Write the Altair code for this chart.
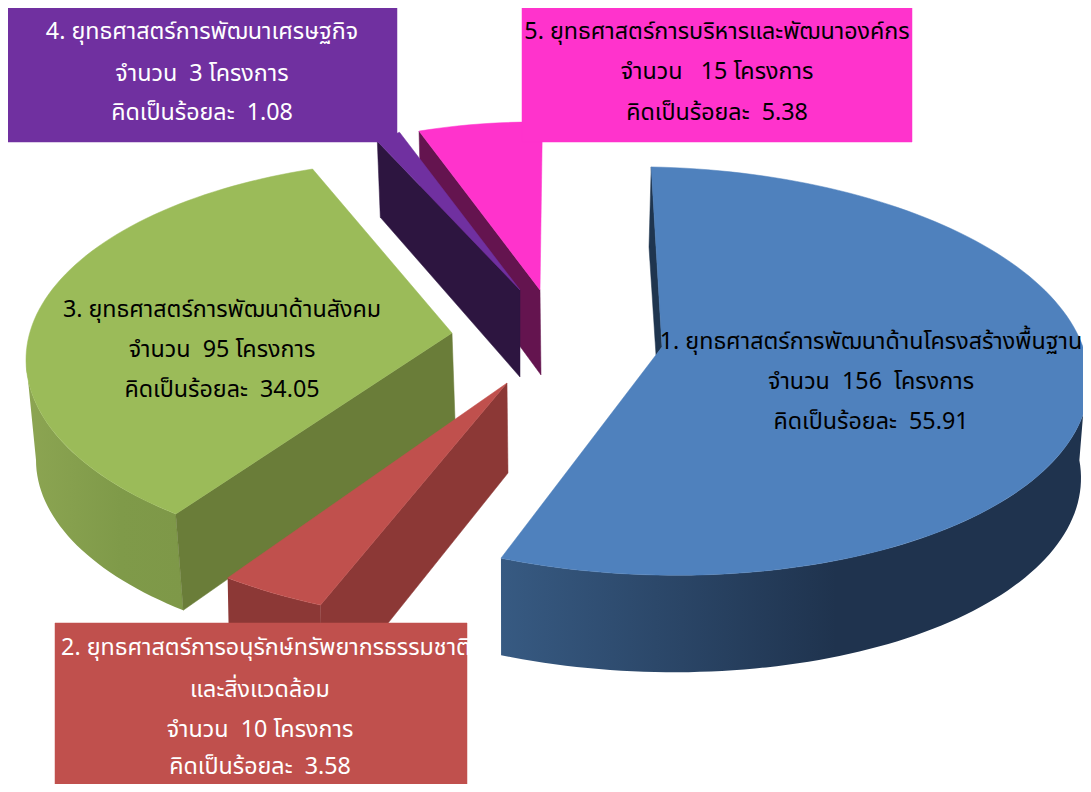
import math
import altair as alt

# ---- chart values -------------------------------------------------------
categories = ["ยุทธศาสตร์การพัฒนาด้านโครงสร้างพื้นฐาน",
              "ยุทธศาสตร์การอนุรักษ์ทรัพยากรธรรมชาติ",
              "ยุทธศาสตร์การพัฒนาด้านสังคม",
              "ยุทธศาสตร์การพัฒนาเศรษฐกิจ",
              "ยุทธศาสตร์การบริหารและพัฒนาองค์กร"]
projects = [156, 10, 95, 3, 15]
top_colors = ["#4F81BD", "#C0504D", "#9BBB59", "#7030A0", "#FF33CC"]
cut_colors = ["#1F354F", "#8C3836", "#6A7D39", "#2D1540", "#64144F"]

# fitted picture geometry of each exploded slice
rotation = [-0.5, 0.2, 5.4, 1.3, 1.3]
shear = [10, 0, 0, 0, 0]
rim = [(655, 371, 434, 204), (492, 365, 468, 258), (439, 359.7, 413, 200.3),
       (508, 504, 350, 391), (534, 307, 371, 185)]
floor = [(653, 468, 428, 204), (494, 465, 468, 258), (442, 460, 406, 195),
         (511, 580, 350, 391), (536, 387, 371, 185)]
apex = [(662, 347), (507, 383), (452, 333), (520, 290), (540, 290)]
apex_floor = [(656, 355), (508, 473), (455, 420), (520, 377), (541, 375)]
draw_order = [0, 2, 1, 4, 3]
wall_range = {0: (85, None), 1: (None, None), 2: (None, 270)}
wall_stops = {
    0: [(0, "#375A82"), (0.57, "#1F334E"), (1, "#1F334E")],
    1: [(0, "#8C3836"), (1, "#8C3836")],
    2: [(0, "#8CA552"), (0.6, "#7F9A49"), (1, "#7E9848")],
}

boxes = [(55, 623, 467, 800, "#C0504D"), (7, 6, 397, 142, "#7030A0"), (522, 0, 912, 142, "#FF33CC")]

NB = "\u00a0"
text_lines = [
    ("1. ยุทธศาสตร์การพัฒนาด้านโครงสร้างพื้นฐาน", 871, 342, "black"),
    (f"จำนวน {NB}156 {NB}โครงการ", 871, 382, "black"),
    (f"คิดเป็นร้อยละ {NB}55.91", 871, 422, "black"),
    ("2. ยุทธศาสตร์การอนุรักษ์ทรัพยากรธรรมชาติ", 266, 648, "white"),
    ("และสิ่งแวดล้อม", 260, 690, "white"),
    (f"จำนวน {NB}10 โครงการ", 260, 730, "white"),
    (f"คิดเป็นร้อยละ {NB}3.58", 260, 767, "white"),
    ("3. ยุทธศาสตร์การพัฒนาด้านสังคม", 222, 310, "black"),
    (f"จำนวน {NB}95 โครงการ", 222, 350, "black"),
    (f"คิดเป็นร้อยละ {NB}34.05", 222, 390, "black"),
    ("4. ยุทธศาสตร์การพัฒนาเศรษฐกิจ", 202, 32, "white"),
    (f"จำนวน {NB}3 โครงการ", 202, 74, "white"),
    (f"คิดเป็นร้อยละ {NB}1.08", 202, 113, "white"),
    ("5. ยุทธศาสตร์การบริหารและพัฒนาองค์กร", 717, 32, "black"),
    (f"จำนวน {NB}{NB}15 โครงการ", 717, 72, "black"),
    (f"คิดเป็นร้อยละ {NB}5.38", 717, 113, "black"),
]

# ---- geometry built from the values --------------------------------------
total = sum(projects)
STEP = 1.5


def pt(e, t, s=0):
    r = math.radians(t)
    return [e[0] + e[2] * math.sin(r), e[1] - e[3] * math.cos(r) + s * math.sin(r)]


def feature(ring, color):
    ring = [list(p) for p in ring]
    ring.append(ring[0])
    return {"type": "Feature", "properties": {"c": color},
            "geometry": {"type": "Polygon", "coordinates": [ring]}}


def ts(a, b):
    n = max(2, int((b - a) / STEP))
    return [a + (b - a) * k / n for k in range(n + 1)]


PROJ = dict(type="identity", scale=1, translate=[-8, -8])


def faces_layer(features):
    return alt.Chart(alt.Data(values=features)).mark_geoshape(strokeWidth=0.5).encode(
        fill=alt.Color("properties.c:N", scale=None),
        stroke=alt.Color("properties.c:N", scale=None),
    ).project(**PROJ)


slices = []
cum = 0
for i, v in enumerate(projects):
    span = v / total * 360
    slices.append((cum + rotation[i], cum + rotation[i] + span))
    cum += span

layers = []
for i in draw_order:
    t0, t1 = slices[i]
    s = shear[i]
    if i in wall_range:
        lo, hi = wall_range[i]
        g = ts(lo if lo is not None else t0, hi if hi is not None else t1)
        ring = [pt(rim[i], t, s) for t in g] + [pt(floor[i], t, s) for t in reversed(g)]
        grad = alt.Gradient(gradient="linear", x1=0, x2=1, y1=0, y2=0,
                            stops=[alt.GradientStop(offset=o, color=c) for o, c in wall_stops[i]])
        layers.append(
            alt.Chart(alt.Data(values=[feature(ring, "")])).mark_geoshape(fill=grad, strokeWidth=0).project(**PROJ)
        )
    faces = []
    if i == 0:
        faces.append(feature([pt(rim[i], t0, s), (649, 247), apex_floor[i], apex[i]], cut_colors[i]))
    else:
        faces.append(feature([pt(rim[i], t0, s), apex[i], apex_floor[i], pt(floor[i], t0, s)], cut_colors[i]))
    faces.append(feature([apex[i]] + [pt(rim[i], t, s) for t in ts(t0, t1)], top_colors[i]))
    layers.append(faces_layer(faces))

layers.append(faces_layer([feature([(x0, y0), (x1, y0), (x1, y1), (x0, y1)], c) for x0, y0, x1, y1, c in boxes]))

labels = alt.Chart(alt.Data(values=[
    {"t": t, "x": x - 8, "y": y - 8, "c": c} for t, x, y, c in text_lines
])).mark_text(font="Noto Sans Thai, Tahoma, Noto Sans, DejaVu Sans", fontSize=23.3, align="center", baseline="middle").encode(
    x=alt.X("x:Q", scale=None),
    y=alt.Y("y:Q", scale=None),
    text="t:N",
    color=alt.Color("c:N", scale=None),
)
layers.append(labels)

chart = alt.layer(*layers).properties(
    width=1075, height=776, padding=0,
    autosize=alt.AutoSizeParams(type="none"),
).configure_view(stroke=None)

chart.save("out.html", embed_options={"renderer": "svg", "actions": False})
